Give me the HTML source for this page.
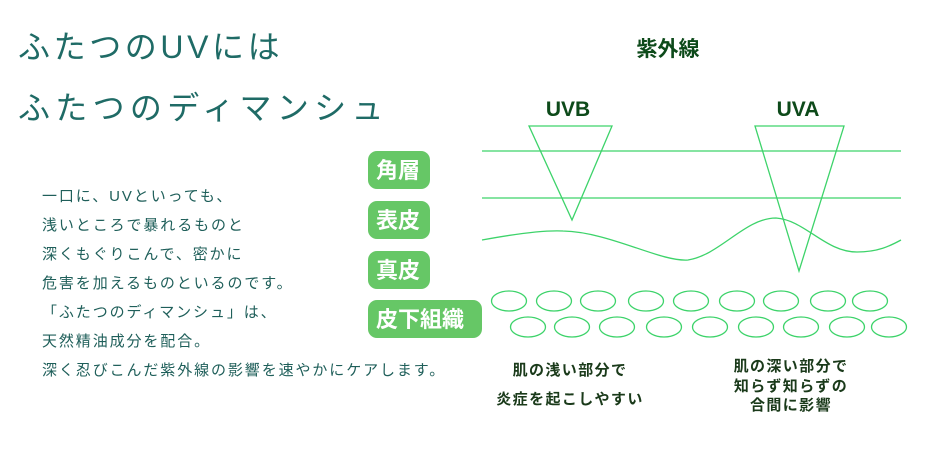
<!DOCTYPE html>
<html><head><meta charset="utf-8"><style>
html,body{margin:0;padding:0;background:#fff;}
svg{display:block}
.t{font-family:"Liberation Sans","Noto Sans CJK JP",sans-serif;}
</style></head><body>
<svg width="940" height="460" viewBox="0 0 940 460" xmlns="http://www.w3.org/2000/svg">
<g class="t" fill="#1f6b66" font-size="32">
<text x="18" y="58" letter-spacing="3.6">ふたつのUVには</text>
<text x="18" y="119" letter-spacing="5.3">ふたつのディマンシュ</text>
</g>
<g class="t" fill="#1f5f5a" font-size="15" letter-spacing="1.9">
<text x="42" y="201">一口に、UVといっても、</text>
<text x="42" y="230">浅いところで暴れるものと</text>
<text x="42" y="259">深くもぐりこんで、密かに</text>
<text x="42" y="288">危害を加えるものといるのです。</text>
<text x="42" y="317">「ふたつのディマンシュ」は、</text>
<text x="42" y="346">天然精油成分を配合。</text>
<text x="42" y="375">深く忍びこんだ紫外線の影響を速やかにケアします。</text>
</g>
<g fill="#66c766">
<rect x="368" y="151" width="62" height="38" rx="9"/>
<rect x="368" y="201" width="62" height="38" rx="9"/>
<rect x="368" y="251" width="62" height="38" rx="9"/>
<rect x="368" y="300" width="114" height="38" rx="9"/>
</g>
<g class="t" fill="#fff" font-size="22" font-weight="bold">
<text x="376" y="178">角層</text>
<text x="376" y="228">表皮</text>
<text x="376" y="278">真皮</text>
<text x="376" y="327">皮下組織</text>
</g>
<g class="t" fill="#0d4a1a" font-weight="bold" text-anchor="middle">
<text x="668" y="56" font-size="21">紫外線</text>
<text x="568" y="116" font-size="21">UVB</text>
<text x="798" y="116" font-size="21">UVA</text>
</g>
<g stroke="#3dd36a" stroke-width="1.3" fill="none">
<line x1="482" y1="151" x2="901" y2="151"/>
<line x1="482" y1="198" x2="901" y2="198"/>
<polygon points="529,126 612,126 572,220"/>
<polygon points="755,126 844,126 799,271"/>
<path d="M482,240 C520,233 545,230 563,231 C610,232 660,262 688,260 C720,255 745,218 776,218 C805,220 825,252 857,252 C878,252 890,246 901,240"/>
</g>
<g stroke="#3dd36a" stroke-width="1.3" fill="none">
<ellipse cx="509" cy="301" rx="17.5" ry="10"/>
<ellipse cx="554" cy="301" rx="17.5" ry="10"/>
<ellipse cx="598" cy="301" rx="17.5" ry="10"/>
<ellipse cx="646" cy="301" rx="17.5" ry="10"/>
<ellipse cx="691" cy="301" rx="17.5" ry="10"/>
<ellipse cx="737" cy="301" rx="17.5" ry="10"/>
<ellipse cx="781" cy="301" rx="17.5" ry="10"/>
<ellipse cx="828" cy="301" rx="17.5" ry="10"/>
<ellipse cx="870" cy="301" rx="17.5" ry="10"/>
<ellipse cx="528" cy="327" rx="17.5" ry="10"/>
<ellipse cx="572" cy="327" rx="17.5" ry="10"/>
<ellipse cx="617" cy="327" rx="17.5" ry="10"/>
<ellipse cx="664" cy="327" rx="17.5" ry="10"/>
<ellipse cx="710" cy="327" rx="17.5" ry="10"/>
<ellipse cx="756" cy="327" rx="17.5" ry="10"/>
<ellipse cx="801" cy="327" rx="17.5" ry="10"/>
<ellipse cx="847" cy="327" rx="17.5" ry="10"/>
<ellipse cx="889" cy="327" rx="17.5" ry="10"/>
</g>
<g class="t" fill="#1a3a1a" font-size="15" font-weight="bold" letter-spacing="1.4" text-anchor="middle">
<text x="570" y="375">肌の浅い部分で</text>
<text x="570" y="404">炎症を起こしやすい</text>
<text x="791" y="371">肌の深い部分で</text>
<text x="791" y="391">知らず知らずの</text>
<text x="791" y="410">合間に影響</text>
</g>
</svg>
</body></html>
